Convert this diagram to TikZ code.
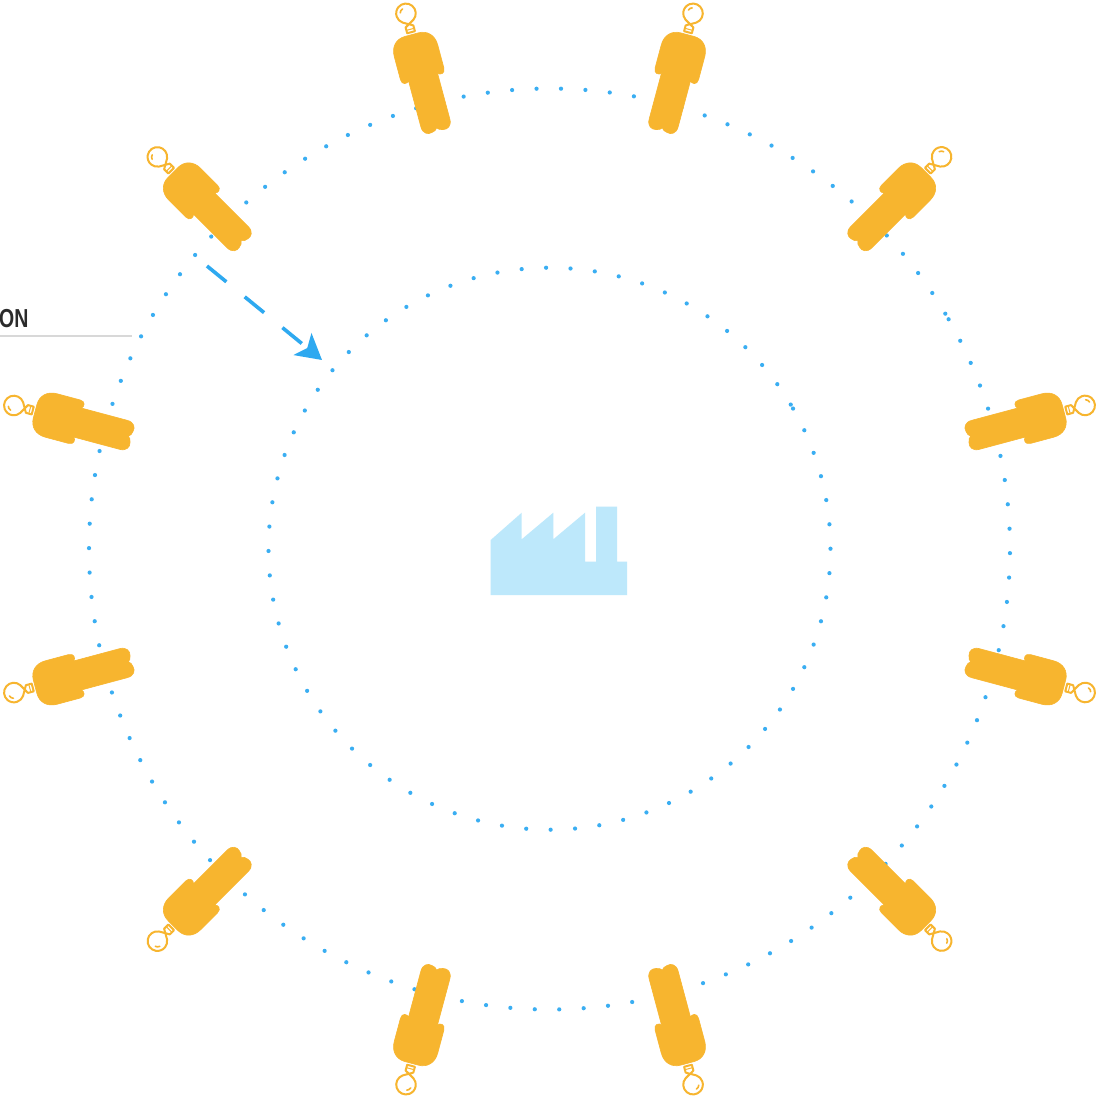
\documentclass[tikz,border=0pt]{standalone}
\usepackage{fontspec}
\setmainfont{Liberation Sans}
\usetikzlibrary{arrows.meta}
\definecolor{amber}{HTML}{F7B52F}
\definecolor{dotblue}{HTML}{3AAEF2}
\definecolor{arrowblue}{HTML}{2EA9F0}
\definecolor{factory}{HTML}{BDE8FB}
\definecolor{ruleg}{HTML}{D8D8D8}
\definecolor{ink}{HTML}{2B2B2B}
\tikzset{
  bodyshape/.style={fill=amber,draw=amber,line width=0.6pt,line join=round},
  bulbline/.style={draw=amber,line width=2pt,line cap=round,line join=round},
  ringdot/.style={fill=dotblue,draw=none},
  flowline/.style={draw=arrowblue,line width=3.6pt,dash pattern=on 25pt off 23.7pt},
}
\begin{document}
\begin{tikzpicture}[x=1pt,y=-1pt]
\useasboundingbox (0,0) rectangle (1098,1100);
\fill[white] (0,0) rectangle (1098,1100);
% dotted rings (closing near 30 degrees, where two dots nearly touch)
\foreach \i in {-19,...,99}{
  \pgfmathsetmacro{\t}{88.57+\i*3.044}
  \fill[ringdot] ({549.5+460.5*cos(\t)},{549-460.5*sin(\t)}) circle[radius=2.1];
}
\foreach \i in {-12,...,60}{
  \pgfmathsetmacro{\t}{90.7+\i*4.987}
  \fill[ringdot] ({549.5+281*cos(\t)},{548.7-281*sin(\t)}) circle[radius=2.1];
}
% people with bulbs
\foreach \a in {15,45,...,345}{
  \begin{scope}[shift={(549.5,549)},rotate=\a]
    \path[bodyshape] (441,-15)
      .. controls (434,-15) and (431.5,-10) .. (432.7,-6)
      .. controls (433.2,-3) and (434,-1) .. (436,0)
      .. controls (434,1) and (433.2,3) .. (432.7,6)
      .. controls (431.5,10) and (434,15) .. (441,15)
      -- (488.5,15)
      .. controls (486,17) and (486,22.5) .. (492,22.5)
      -- (516,22.5)
      .. controls (526,22.5) and (532.5,16) .. (532.5,7)
      -- (532.5,-7)
      .. controls (532.5,-16) and (526,-22.5) .. (516,-22.5)
      -- (492,-22.5)
      .. controls (486,-22.5) and (486,-17) .. (488.5,-15)
      -- cycle;
    \path[bulbline] (546.5,5.6) arc[start angle=145,delta angle=-290,radius=9.8]
      -- (541,4) -- (535,4) -- (535,-4) -- (541,-4) -- cycle;
    \path[draw=amber,line width=1pt] (538,-4) -- (538,4);
    \path[draw=amber,line width=1.6pt,line cap=round]
      (559.6,-2.2) .. controls (559.2,-3.8) and (558.2,-4.8) .. (556.5,-5.4);
  \end{scope}
}
% factory
\fill[factory] (490.7,540) -- (521.7,512.7) -- (521.7,539.3) -- (553.3,512.7) -- (553.3,539.3)
  -- (585,512.7) -- (585,561.7) -- (596,561.7) -- (596,506.7) -- (617,506.7) -- (617,561.7)
  -- (627,561.7) -- (627,595) -- (490.7,595) -- cycle;
% label and rule
\coordinate (ruleA) at (0,336);
\coordinate (ruleB) at (132,336);
\draw[ruleg,line width=1.6pt] (ruleA) -- (ruleB);
\node[anchor=base west,inner sep=0pt,text=ink,font=\bfseries\fontsize{26}{26}\selectfont,xscale=0.75] (onlabel) at (-1,327.5) {ON};
% arrow
\coordinate (flowA) at (207,266);
\coordinate (flowB) at (322,360);
\draw[flowline,-{Stealth[length=25pt,width=28pt,inset=6pt,fill=arrowblue,sep=0pt]}] (flowA) -- (flowB);
\end{tikzpicture}
\end{document}
